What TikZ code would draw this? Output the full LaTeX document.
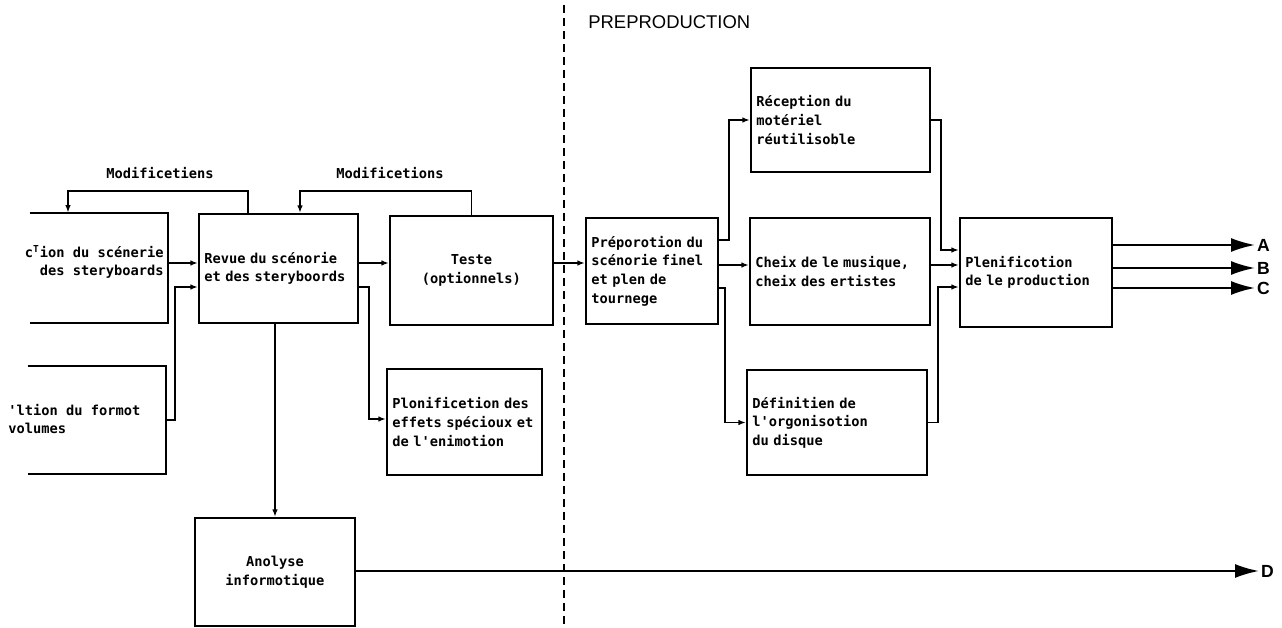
\documentclass[tikz,border=0pt]{standalone}
\usepackage{fontspec}
\setmonofont{DejaVu Sans Mono}
\setsansfont{Liberation Sans}
\usetikzlibrary{arrows.meta}
\newcommand{\blkfont}{\ttfamily\bfseries\fontsize{7.8}{10.6}\selectfont}
\begin{document}
\begin{tikzpicture}[x=0.02cm, y=-0.02cm, >={Latex[length=0.15cm,width=0.11cm]},
        blk/.style 2 args={draw, line width=1.2pt, inner xsep=3pt, inner ysep=4pt, minimum width=#1*0.02cm, minimum height=#2*0.02cm, text width=#1*0.02cm-6pt, align=left, font=\blkfont},
        cutblk/.style 2 args={inner sep=0pt, minimum width=#1*0.02cm, minimum height=#2*0.02cm},
        link/.style={line width=1pt, ->},
        bigarrow/.style={line width=1.2pt, -{Latex[length=0.48cm,width=0.28cm]}},
        outlbl/.style={font=\sffamily\bfseries\fontsize{10}{12}\selectfont, anchor=west, inner sep=1pt}]
        % ==== FRAME ====
        \useasboundingbox (0,0) rectangle (1282,628);

        % ==== CUT BOXES ON THE LEFT ====
        \node[cutblk={138}{110}] (creation) at (99,268) {};
        \draw[line width=1.2pt] (creation.north west) -| (creation.south east) -- (creation.south west);
        \node[anchor=east, align=right, font=\blkfont, inner sep=0pt] (creationtxt) at (164,262) {c\textsuperscript{T}ion du scénerie\\des steryboards};
        \node[cutblk={138}{107}] (format) at (97,420) {};
        \draw[line width=1.2pt] (format.north west) -| (format.south east) -- (format.south west);
        \node[anchor=west, align=left, font=\blkfont, inner sep=0pt] (formattxt) at (8,419) {'ltion du formot\\volumes};

        % ==== BOXES ====
        \node[blk={159}{109}] (revue) at (278.5,268.5) {Revue du scénorie\\et des steryboords};
        \node[blk={163}{109}, align=center] (tests) at (471.5,270.5) {Teste\\(optionnels)};
        \node[blk={155}{106}] (effets) at (464.5,422) {Plonificetion des\\effets spécioux et\\de l'enimotion};
        \node[blk={160}{108}, align=center] (analyse) at (275,572) {Anolyse\\informotique};
        \node[blk={132}{106}] (prepa) at (652,271) {Préporotion du\\scénorie finel\\et plen de\\tournege};
        \node[blk={179}{104}] (reception) at (840.5,120) {Réception du\\motériel\\réutilisoble};
        \node[blk={180}{107}] (choix) at (840,271.5) {Cheix de le musique,\\cheix des ertistes};
        \node[blk={180}{105}] (definition) at (837,422.5) {Définitien de\\l'orgonisotion\\du disque};
        \node[blk={152}{109}] (planif) at (1036,272.5) {Plenificotion\\de le production};

        % ==== FEEDBACK LOOPS ====
        \draw[link] ([xshift=-0.61cm]revue.north) -- ++(0,-22) -| ([xshift=-0.62cm]creation.north);
        \node[font=\blkfont] (modif1) at (160,173) {Modificetiens};
        \draw[link] (tests.north) -- ++(0,-24) -| ([xshift=0.43cm]revue.north);
        \node[font=\blkfont] (modif2) at (390,173) {Modificetions};

        % ==== LINKS BEFORE PREPRODUCTION ====
        \draw[link] ([yshift=0.1cm]creation.east) -- ([yshift=0.1cm]creation.east -| revue.west);
        \draw[link] (format.east) -- ++(9,0) |- ([yshift=-0.37cm]revue.west);
        \draw[link] ([yshift=0.11cm]revue.east) -- ([yshift=0.11cm]revue.east -| tests.west);
        \draw[link] ([yshift=-0.37cm]revue.east) -- ++(10,0) |- ([yshift=0.06cm]effets.west);
        \draw[link] (revue.south -| analyse.north) -- (analyse.north);

        % ==== SEPARATOR ====
        \coordinate (sepTop) at (564,5);
        \coordinate (sepBot) at (564,628);
        \draw[line width=1pt, dash pattern=on 0.16cm off 0.1cm] (sepTop) -- (sepBot);
        \node[anchor=west, font=\sffamily\fontsize{10.5}{12}\selectfont, inner sep=0pt] (phase) at (588,22) {PREPRODUCTION};

        % ==== LINKS IN PREPRODUCTION ====
        \draw[link] ([yshift=0.15cm]tests.east) -- ([yshift=0.15cm]tests.east -| prepa.west);
        \draw[link] ([yshift=0.62cm]prepa.east) -- ++(10,0) |- (reception.west);
        \draw[link] ([yshift=0.12cm]prepa.east) -- ([yshift=0.12cm]prepa.east -| choix.west);
        \draw[link] ([yshift=-0.34cm]prepa.east) -- ++(6,0) |- (definition.west);
        \draw[link] (reception.east) -- ++(10,0) |- ([yshift=0.45cm]planif.west);
        \draw[link] ([yshift=0.13cm]choix.east) -- ([yshift=0.13cm]choix.east -| planif.west);
        \draw[link] (definition.east) -- ++(10,0) |- ([yshift=-0.29cm]planif.west);

        % ==== OUTPUTS ====
        \node[outlbl] (lblA) at (1255,245) {A};
        \node[outlbl] (lblB) at (1255,268) {B};
        \node[outlbl] (lblC) at (1255,288) {C};
        \node[outlbl] (lblD) at (1259,571) {D};
        \draw[bigarrow] (planif.east |- lblA.west) -- (lblA.west);
        \draw[bigarrow] (planif.east |- lblB.west) -- (lblB.west);
        \draw[bigarrow] (planif.east |- lblC.west) -- (lblC.west);
        \draw[bigarrow] (analyse.east |- lblD.west) -- (lblD.west);
    \end{tikzpicture}
\end{document}
